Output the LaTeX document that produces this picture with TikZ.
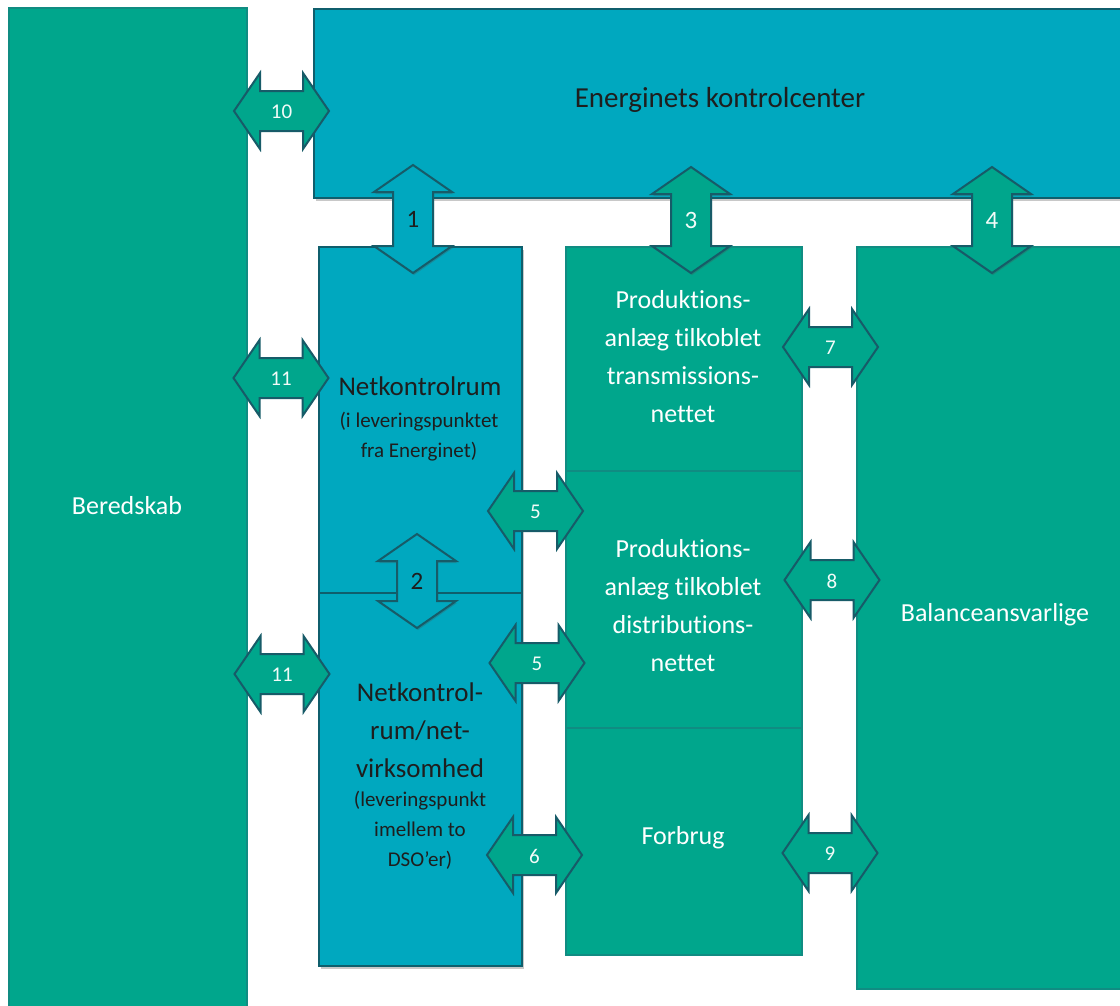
\documentclass[tikz,border=0pt]{standalone}
\usepackage{fontspec}
\setmainfont{Carlito}[Ligatures={NoCommon,NoContextual},Contextuals={NoAlternate}]
\usetikzlibrary{shadows}
\definecolor{egreen}{HTML}{00A68C}
\definecolor{eblue}{HTML}{00A8BF}
\definecolor{edark}{HTML}{175B68}
\definecolor{gborder}{HTML}{108C82}
\definecolor{bborder}{HTML}{0F5E6C}
\definecolor{etext}{HTML}{1E1E1E}
\definecolor{elight}{HTML}{F2FBF8}
\newcommand{\HArrowShape}[5]{% name, cx, cy, style, label
  \path[#4] ({#2-47.5},#3) -- ({#2-21.5},{#3-38}) -- ({#2-21.5},{#3-20}) -- ({#2+21.5},{#3-20}) -- ({#2+21.5},{#3-38}) -- ({#2+47.5},#3) -- ({#2+21.5},{#3+38}) -- ({#2+21.5},{#3+20}) -- ({#2-21.5},{#3+20}) -- ({#2-21.5},{#3+38}) -- cycle;
  \node[hlabel] (#1) at (#2,{#3+1}) {#5};
}
\newcommand{\VArrowShape}[7]{% name, cx, cy, halflen, style, labelstyle, label
  \path[#5] (#2,{#3-#4}) -- ({#2+39},{#3-#4+27}) -- ({#2+20},{#3-#4+27}) -- ({#2+20},{#3+#4-27}) -- ({#2+39},{#3+#4-27}) -- (#2,{#3+#4}) -- ({#2-39},{#3+#4-27}) -- ({#2-20},{#3+#4-27}) -- ({#2-20},{#3-#4+27}) -- ({#2-39},{#3-#4+27}) -- cycle;
  \node[#6] (#1) at (#2,#3) {#7};
}
\begin{document}
\begin{tikzpicture}[x=1pt,y=-1pt,
  gbox/.style={draw=gborder, line width=1.5pt, fill=egreen, anchor=north west, inner sep=0pt, minimum width=#1},
  bbox/.style={draw=bborder, line width=2pt, fill=eblue, anchor=north west, inner sep=0pt, minimum width=#1,
     drop shadow={shadow xshift=1.5pt, shadow yshift=-2.5pt, opacity=0.3, fill=black!70}},
  arrowline/.style={draw=edark, line width=2pt, line join=miter},
  garrow/.style={arrowline, fill=egreen},
  barrow/.style={arrowline, fill=eblue, drop shadow={shadow xshift=1pt, shadow yshift=-2pt, opacity=0.3, fill=black!70}},
  gvarrow/.style={arrowline, fill=egreen, drop shadow={shadow xshift=1pt, shadow yshift=-2pt, opacity=0.3, fill=black!70}},
  hlabel/.style={text=elight, font=\fontsize{21}{25}\selectfont, inner sep=0pt},
  vglabel/.style={text=elight, font=\fontsize{25}{29}\selectfont, inner sep=0pt},
  vblabel/.style={text=etext, font=\fontsize{25}{29}\selectfont, inner sep=0pt},
  wtext/.style={text=white, align=center, inner sep=0pt, font=\fontsize{26}{38}\selectfont},
  dtext/.style={text=etext, align=center, inner sep=0pt, font=\fontsize{27}{38}\selectfont},
  dsmall/.style={text=etext, align=center, inner sep=0pt, font=\fontsize{21}{30}\selectfont},
]
\useasboundingbox (0,0) rectangle (1120,1005);
\fill[white] (0,0) rectangle (1120,1005);

% boxes
\node[gbox=238pt, minimum height=1000pt] (bered) at (8,7) {};
\node[bbox=814pt, minimum height=189pt] (ekc) at (313,8) {};
\node[bbox=203pt, minimum height=719pt] (netcol) at (318,246) {};
\node[draw=bborder, line width=2pt, fill=eblue, anchor=north west, inner sep=0pt, minimum width=203pt, minimum height=346pt] (net1) at (318,246) {};
\node[draw=bborder, line width=2pt, fill=eblue, anchor=north west, inner sep=0pt, minimum width=203pt, minimum height=373pt] (net2) at (318,592) {};
\node[gbox=236pt, minimum height=224pt] (prod1) at (565,246) {};
\node[gbox=236pt, minimum height=257pt] (prod2) at (565,470) {};
\node[gbox=236pt, minimum height=227pt] (forbrug) at (565,727) {};
\node[gbox=278pt, minimum height=742pt] (bal) at (856,246) {};

% texts
\node[wtext] (beredT) at (127,506) {Beredskab};
\node[dtext, font=\fontsize{29}{38}\selectfont] (ekcT) at (720,100) {Energinets kontrolcenter};
\node[dtext] (net1T) at (420,386) {Netkontrolrum};
\node[dsmall] (net1S) at (419,437) {(i leveringspunktet\\fra Energinet)};
\node[dtext] (net2T) at (420,730) {Netkontrol-\\rum/net-\\virksomhed};
\node[dsmall] (net2S) at (420,830) {(leveringspunkt\\imellem to\\DSO’er)};
\node[wtext] (prod1T) at (683,357) {Produktions-\\anlæg tilkoblet\\transmissions-\\nettet};
\node[wtext] (prod2T) at (683,606) {Produktions-\\anlæg tilkoblet\\distributions-\\nettet};
\node[wtext] (forbrugT) at (683,838) {Forbrug};
\node[wtext] (balT) at (995,615) {Balanceansvarlige};

% arrows
\HArrowShape{a10}{281.5}{111}{garrow}{10}
\HArrowShape{a11a}{281}{378}{garrow}{11}
\HArrowShape{a11b}{282}{674}{garrow}{11}
\HArrowShape{a5a}{535.5}{511}{garrow}{5}
\HArrowShape{a5b}{537}{663}{garrow}{5}
\HArrowShape{a6}{534.5}{855}{garrow}{6}
\HArrowShape{a7}{830.5}{347}{garrow}{7}
\HArrowShape{a8}{832}{580}{garrow}{8}
\HArrowShape{a9}{830}{853}{garrow}{9}
\VArrowShape{a1}{413}{219}{54}{barrow}{vblabel}{1}
\VArrowShape{a3}{691}{220}{53}{gvarrow}{vglabel}{3}
\VArrowShape{a4}{992}{220}{53}{gvarrow}{vglabel}{4}
\VArrowShape{a2}{417}{581}{47}{barrow}{vblabel}{2}
\end{tikzpicture}
\end{document}
